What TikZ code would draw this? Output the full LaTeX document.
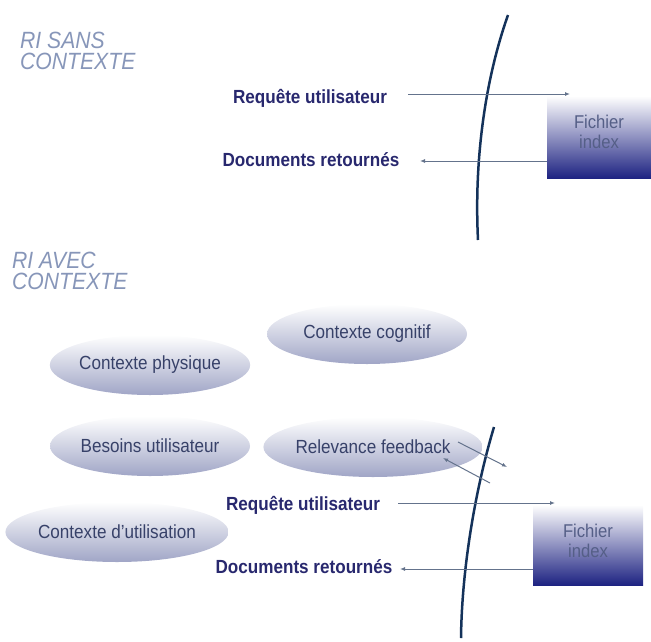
\documentclass[tikz,border=0pt]{standalone}
\usepackage{fontspec}
\setmainfont{Liberation Sans}
\newfontfamily\condfont[FakeStretch=0.9]{Liberation Sans}
\usetikzlibrary{shapes.geometric,arrows.meta}
\definecolor{navy}{RGB}{40,40,110}
\definecolor{slate}{RGB}{55,65,105}
\definecolor{arcblue}{RGB}{20,50,90}
\definecolor{arrowgray}{RGB}{100,115,140}
\definecolor{titlegray}{RGB}{135,150,185}
\definecolor{ellbot}{RGB}{160,165,198}
\definecolor{boxbot}{RGB}{30,35,130}
\definecolor{boxtext}{RGB}{85,95,135}
\begin{document}
\begin{tikzpicture}[x=1pt,y=-1pt,
  title/.style={anchor=north west, align=left, inner sep=0pt, text=titlegray,
    font=\condfont\itshape\fontsize{23.5}{21}\selectfont},
  flowlabel/.style={inner sep=0pt, text=navy, font=\condfont\bfseries\fontsize{19}{22}\selectfont},
  ctx/.style={ellipse, minimum width=200pt, minimum height=60pt, inner sep=0pt,
    top color=white, bottom color=ellbot, text=slate, font=\condfont\fontsize{19}{22}\selectfont},
  idx/.style={rectangle, inner sep=0pt, top color=white, bottom color=boxbot},
  idxtext/.style={inner sep=0pt, text=boxtext, align=center, font=\condfont\fontsize{18.5}{20.5}\selectfont},
  flow/.style={draw=arrowgray, line width=1pt, -{Latex[length=5pt,width=4pt]}},
  frontier/.style={draw=arcblue, line width=2.5pt}
]
\useasboundingbox (0,0) rectangle (651,641);

% ---------- RI sans contexte ----------
\node[title] (t1) at (20,32) {RI SANS\\CONTEXTE};
\node[flowlabel] (q1) at (310,98) {Requête utilisateur};
\node[flowlabel] (d1) at (311,160) {Documents retournés};
\node[idx, minimum width=104pt, minimum height=82pt] (b1) at (599,137) {};
\node[idxtext] (b1t) at ([yshift=5pt]b1.center) {Fichier\\index};
\draw[frontier] (508,15) .. controls (485,80) and (474,160) .. (478,240);
\coordinate (q1s) at (408,94);
\coordinate (q1e) at (570,94);
\coordinate (d1e) at (420,161);
\draw[flow] (q1s) -- (q1e);
\draw[flow] (b1.west |- d1e) -- (d1e);

% ---------- RI avec contexte ----------
\node[title] (t2) at (12,252) {RI AVEC\\CONTEXTE};
\node[ctx] (cog) at (367,334) {Contexte cognitif};
\node[ctx] (phys) at (150,365) {Contexte physique};
\node[ctx] (bes) at (150,446) {Besoins utilisateur};
\node[ctx] (rel) at (373,447) {Relevance feedback};
\node[ctx] (util) at (117,532) {Contexte d’utilisation};
\node[flowlabel] (q2) at (303,505) {Requête utilisateur};
\node[flowlabel] (d2) at (304,567) {Documents retournés};
\node[idx, minimum width=110pt, minimum height=80pt] (b2) at (588,545) {};
\node[idxtext] (b2t) at ([yshift=4pt]b2.center) {Fichier\\index};
\draw[frontier] (494,427) .. controls (478,480) and (462,560) .. (461,638);
\coordinate (q2s) at (398,503);
\coordinate (q2e) at (555,503);
\coordinate (d2e) at (400,569);
\draw[flow] (q2s) -- (q2e);
\draw[flow] (b2.west |- d2e) -- (d2e);
\coordinate (fbout) at (507,467);
\coordinate (fbin) at (490,483);
\draw[flow] (458,442) -- (fbout);
\draw[flow] (fbin) -- (443,458);
\end{tikzpicture}
\end{document}
